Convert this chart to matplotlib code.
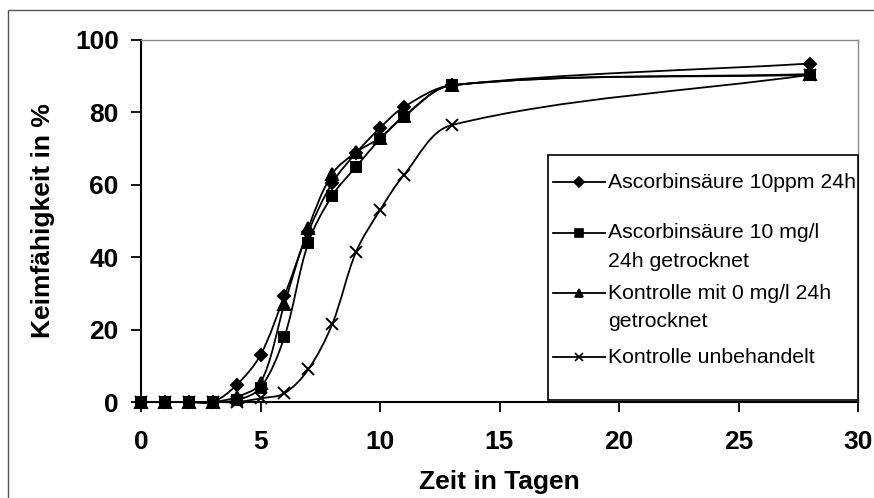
import numpy as np
import matplotlib
matplotlib.use('Agg')
import matplotlib.pyplot as plt
from matplotlib.path import Path
from matplotlib.patches import PathPatch, Rectangle
from matplotlib.lines import Line2D

# --- data --- #
tage = [0, 1, 2, 3, 4, 5, 6, 7, 8, 9, 10, 11, 13, 28]

ascorbin_ppm = [0, 0, 0, 0, 4.7, 13, 29.3, 47, 60.5, 68.8, 75.7, 81.5, 87.5, 93.5]
ascorbin_mgl = [0, 0, 0, 0, 0.5, 3.9, 18, 44, 57, 65, 72.6, 78.8, 87.5, 90.4]
kontrolle_0 = [0, 0, 0, 0, 1.4, 5.2, 27, 48, 63, 69, 73, 79, 87.5, 90.6]
kontrolle_unb = [0, 0, 0, 0, 0, 1, 2.4, 9, 21.5, 41.5, 53, 62.7, 76.5, 90.4]

serien = [ascorbin_ppm, ascorbin_mgl, kontrolle_0, kontrolle_unb]
labels = ['Ascorbinsäure 10ppm 24h',
          'Ascorbinsäure 10 mg/l\n24h getrocknet',
          'Kontrolle mit 0 mg/l 24h\ngetrocknet',
          'Kontrolle unbehandelt']
marker = ['D', 's', '^', 'x']
msize = [6.5, 7, 8, 8.5]

x_ticks = [0, 5, 10, 15, 20, 25, 30]
y_ticks = [0, 20, 40, 60, 80, 100]

plt.rcParams['font.family'] = ['Liberation Sans', 'DejaVu Sans']


def smooth_path(ax, x, y):
    # bezier segments like excel "smoothed line", tangents weighted by
    # segment length on screen so uneven x spacing does not loop
    pts = np.column_stack([x, y]).astype(float)
    scr = ax.transData.transform(pts)
    n = len(pts)
    verts = [tuple(pts[0])]
    codes = [Path.MOVETO]

    def ctrl(i):
        ip = max(i - 1, 0)
        inx = min(i + 1, n - 1)
        d = pts[inx] - pts[ip]
        lp = np.hypot(*(scr[i] - scr[ip]))
        ln = np.hypot(*(scr[inx] - scr[i]))
        tot = lp + ln
        if tot == 0:
            return pts[i], pts[i]
        c_in = pts[i] - d * (lp / tot) / 3
        c_out = pts[i] + d * (ln / tot) / 3
        return c_in, c_out

    cs = [ctrl(i) for i in range(n)]
    for i in range(n - 1):
        verts += [tuple(cs[i][1]), tuple(cs[i + 1][0]), tuple(pts[i + 1])]
        codes += [Path.CURVE4] * 3
    return Path(verts, codes)


fig = plt.figure(figsize=(8.74, 4.98), dpi=100)
ax = fig.add_axes([141 / 874, 96 / 498, 717 / 874, 362 / 498])

# --- axes --- #
ax.set_xlim(0, 30)
ax.set_ylim(0, 100)
ax.set_xticks(x_ticks)
ax.set_yticks(y_ticks)

for s, m, ms in zip(serien, marker, msize):
    ax.add_patch(PathPatch(smooth_path(ax, tage, s), fill=False,
                           edgecolor='black', lw=1.3, clip_on=False, zorder=3))
    ax.plot(tage, s, linestyle='none', marker=m, color='black', ms=ms,
            mew=1.4, clip_on=False, zorder=4)

for side in ['top', 'right']:
    ax.spines[side].set_color('#888888')
    ax.spines[side].set_linewidth(1.0)
for side in ['left', 'bottom']:
    ax.spines[side].set_color('black')
    ax.spines[side].set_linewidth(1.5)

ax.tick_params(axis='x', direction='out', length=7, width=1.3, pad=13,
               labelsize=19)
ax.tick_params(axis='y', direction='out', length=7, width=1.3, pad=9,
               labelsize=19)
for label in ax.get_xticklabels() + ax.get_yticklabels():
    label.set_fontweight('bold')

ax.set_xlabel('Zeit in Tagen', fontsize=19, fontweight='bold', labelpad=12)
ax.set_ylabel('Keimfähigkeit in %', fontsize=19, fontweight='bold', labelpad=14)

# --- legend (excel style, marker on first text line) --- #
ax.add_patch(Rectangle((0.5676, 0.006), 0.4324, 0.676, transform=ax.transAxes,
                       facecolor='white', edgecolor='black', lw=1.2,
                       clip_on=False, zorder=5))
y_pos = [0.6077, 0.4669, 0.3011, 0.1243]
line_step = 0.0801
for lab, m, ms, yp in zip(labels, marker, msize, y_pos):
    ax.add_line(Line2D([0.5746, 0.647], [yp, yp], transform=ax.transAxes,
                       color='black', lw=1.3, zorder=6))
    ax.add_line(Line2D([0.611], [yp], transform=ax.transAxes, color='black',
                       marker=m, ms=ms * 0.75, mew=1.2, zorder=6))
    for k, zeile in enumerate(lab.split('\n')):
        ax.text(0.651, yp - k * line_step, zeile, transform=ax.transAxes,
                fontsize=15.3, va='center', ha='left', zorder=6)

# figure frame
fig.patches.append(Rectangle((8 / 874, -0.5), 1.5, 1.5 - 10 / 498,
                             transform=fig.transFigure, fill=False,
                             edgecolor='#555555', lw=1.0))

fig.savefig('out.png', dpi=100)
